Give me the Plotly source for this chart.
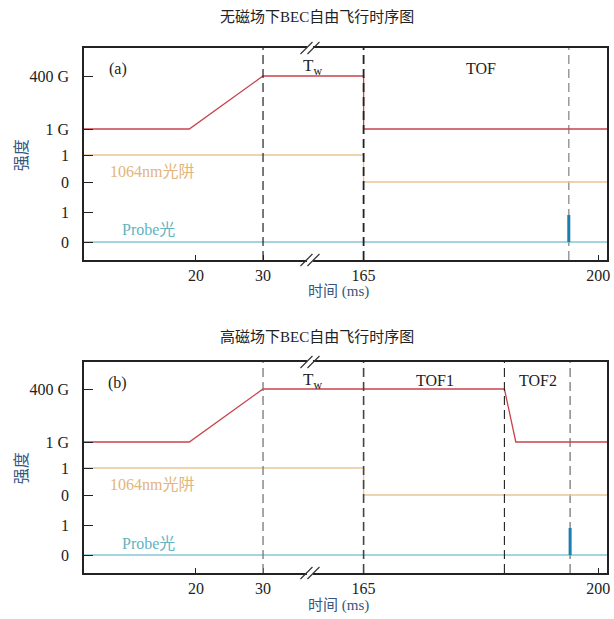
import plotly.graph_objects as go

# ---------------- data (times in ms, levels: 0 = low / 1 G, 1 = high / 400 G) ----------------
x_tick_vals = [20, 30, 165, 200]
x_tick_text = ["20", "30", "165", "200"]

# panel (a): no field
field_a_t = [0, 19, 30, 165, 165, 205]
field_a_v = [0, 0, 1, 1, 0, 0]
trap_a_t = [0, 165, 165, 205]
trap_a_v = [1, 1, 0, 0]
probe_a_t = [0, 205]
probe_a_v = [0, 0]
pulse_a_t = [195.6, 195.6]
pulse_a_v = [0, 0.9]

# panel (b): high field
field_b_t = [0, 19, 30, 186, 187.7, 205]
field_b_v = [0, 0, 1, 1, 0, 0]
trap_b_t = [0, 165, 165, 205]
trap_b_v = [1, 1, 0, 0]
probe_b_t = [0, 205]
probe_b_v = [0, 0]
pulse_b_t = [195.8, 195.8]
pulse_b_v = [0, 0.9]

y_tick_text = ["0", "1", "0", "1", "1 G", "400 G"]

titles = ["无磁场下BEC自由飞行时序图", "高磁场下BEC自由飞行时序图"]

# ---------------- broken-axis transform & lane layout ----------------
def disp(t):
    if t <= 30:
        return t
    if t <= 165:
        return 30 + (t - 30) * 15.0 / 135.0
    return 45 + (t - 165)

lanes = {"field": (131, 53), "trap": (78, 27), "probe": (18, 30)}

def lane(name, vals):
    base, h = lanes[name]
    return [base + v * h for v in vals]

y_tick_vals = [lanes["probe"][0], lanes["probe"][0] + lanes["probe"][1],
               lanes["trap"][0], lanes["trap"][0] + lanes["trap"][1],
               lanes["field"][0], lanes["field"][0] + lanes["field"][1]]

RED = "#c8434b"
TAN = "#e8c596"
CYAN = "#4aa9bb"
BLUE = "#1a7fb0"
AXT = "#35577f"
SERIF = "Liberation Serif, Times New Roman, serif"
CJK = "Noto Sans CJK SC"

fig = go.Figure()

panels = [
    dict(xa="x", ya="y", field=(field_a_t, field_a_v), trap=(trap_a_t, trap_a_v),
         probe=(probe_a_t, probe_a_v), pulse=(pulse_a_t, pulse_a_v)),
    dict(xa="x2", ya="y2", field=(field_b_t, field_b_v), trap=(trap_b_t, trap_b_v),
         probe=(probe_b_t, probe_b_v), pulse=(pulse_b_t, pulse_b_v)),
]

for p in panels:
    for key, col, w in [("field", RED, 1.3), ("trap", TAN, 1.3), ("probe", CYAN, 1.2)]:
        t, v = p[key]
        fig.add_trace(go.Scatter(x=[disp(a) for a in t], y=lane(key, v), mode="lines",
                                 line=dict(color=col, width=w), xaxis=p["xa"], yaxis=p["ya"],
                                 showlegend=False, hoverinfo="skip"))
    t, v = p["pulse"]
    fig.add_trace(go.Scatter(x=[disp(a) for a in t], y=lane("probe", v), mode="lines",
                             line=dict(color=BLUE, width=3), xaxis=p["xa"], yaxis=p["ya"],
                             showlegend=False, hoverinfo="skip"))

axis_common = dict(
    range=[3.3, 81.3], showline=True, linecolor="#222", linewidth=1.5, mirror=True,
    showgrid=False, zeroline=False, ticks="inside", ticklen=5, tickcolor="#222",
    tickvals=[disp(t) for t in x_tick_vals], ticktext=x_tick_text,
    ticklabeloverflow="allow",
    tickfont=dict(family=SERIF, size=16, color="#222"),
)
yaxis_common = dict(
    showline=True, linecolor="#222", linewidth=1.5, mirror=True,
    showgrid=False, zeroline=False, ticks="inside", ticklen=9, tickcolor="#222",
    tickvals=y_tick_vals, ticktext=y_tick_text, ticklabelstandoff=10,
    tickfont=dict(family=SERIF, size=16, color="#222"),
)

fig.update_layout(
    width=614, height=619, margin=dict(l=84, r=4, t=48, b=46),
    plot_bgcolor="white", paper_bgcolor="white",
    xaxis=dict(axis_common, anchor="y"),
    yaxis=dict(yaxis_common, domain=[0.5962, 1.0], range=[0, 212], anchor="x"),
    xaxis2=dict(axis_common, anchor="y2"),
    yaxis2=dict(yaxis_common, domain=[0.0, 0.4019], range=[0, 211], anchor="x2"),
)

# vertical dashed markers
vlines = [
    ("x", "y", 30, "#222", 1.2, "above"), ("x", "y", 165, "#222", 1.8, "above"),
    ("x", "y", pulse_a_t[0], "#9a9a9a", 1.5, "below"),
    ("x2", "y2", 30, "#777", 1.3, "above"), ("x2", "y2", 165, "#444", 1.6, "above"),
    ("x2", "y2", field_b_t[3], "#222", 1.1, "above"), ("x2", "y2", pulse_b_t[0], "#8a8a8a", 1.5, "below"),
]
for xr, yr, t, col, w, lay in vlines:
    fig.add_shape(type="line", xref=xr, yref=yr + " domain", x0=disp(t), x1=disp(t), y0=0, y1=1,
                  line=dict(color=col, width=w, dash="9px,5px"), layer=lay)

# axis-break marks
for xr, yr in [("x", "y"), ("x2", "y2")]:
    for yy in [0, 1]:
        fig.add_shape(type="rect", xref=xr, yref=yr + " domain", xsizemode="pixel", ysizemode="pixel",
                      xanchor=37, yanchor=yy, x0=-3, x1=3, y0=-2, y1=2,
                      fillcolor="white", line=dict(width=0), layer="above")
        for dx in [-3.5, 3.5]:
            fig.add_shape(type="line", xref=xr, yref=yr + " domain", xsizemode="pixel", ysizemode="pixel",
                          xanchor=37, yanchor=yy, x0=dx - 6, x1=dx + 6, y0=-6, y1=6,
                          line=dict(color="#333", width=1.2), layer="above")

ann = []
def a(text, x, y, xref, yref, size=16, color="#222", family=SERIF, angle=0):
    ann.append(dict(text=text, x=x, y=y, xref=xref, yref=yref, showarrow=False,
                    font=dict(family=family, size=size, color=color), textangle=angle,
                    xanchor="center", yanchor="middle"))

# panel (a) labels
a("(a)", 8.3, 191, "x", "y")
a("T<sub>w</sub>", 37.4, 193, "x", "y", size=17)
a("TOF", 62.5, 192, "x", "y")
a("1064nm光阱", 13.4, 89, "x", "y", color="#e2b57c", family=SERIF + ", " + CJK)
a("Probe光", 12.9, 31, "x", "y", color="#62b3c0", family=SERIF + ", " + CJK)
# panel (b) labels
a("(b)", 8.3, 190, "x2", "y2")
a("T<sub>w</sub>", 37.4, 192, "x2", "y2", size=17)
a("TOF1", 55.7, 193, "x2", "y2")
a("TOF2", 71.0, 193, "x2", "y2")
a("1064nm光阱", 13.4, 89, "x2", "y2", color="#e2b57c", family=SERIF + ", " + CJK)
a("Probe光", 12.9, 30, "x2", "y2", color="#62b3c0", family=SERIF + ", " + CJK)

# titles and axis titles
a(titles[0], 0.445, 1.059, "paper", "paper", size=15, family=SERIF + ", " + CJK)
a(titles[1], 0.445, 0.4495, "paper", "paper", size=15, family=SERIF + ", " + CJK)
a("时间 (ms)", 0.487, 0.537, "paper", "paper", size=15, color=AXT, family=SERIF + ", " + CJK)
a("时间 (ms)", 0.487, -0.061, "paper", "paper", size=15, color=AXT, family=SERIF + ", " + CJK)
a("强度", -0.122, 0.796, "paper", "paper", size=16, color=AXT, family=CJK, angle=-90)
a("强度", -0.122, 0.200, "paper", "paper", size=16, color=AXT, family=CJK, angle=-90)

fig.update_layout(annotations=ann)
fig.write_html("out.html", config={"displayModeBar": False},
               post_script="document.body.style.margin='0';document.body.style.padding='0';")
